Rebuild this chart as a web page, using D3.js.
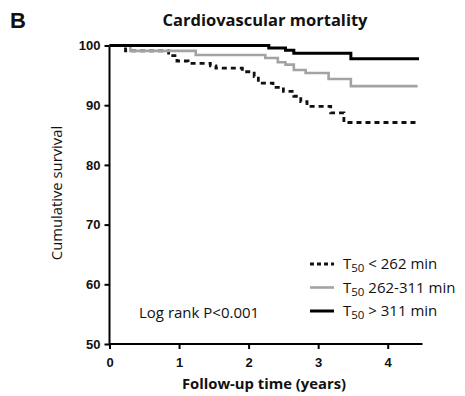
<!DOCTYPE html>
<html>
<head>
<meta charset="utf-8">
<script src="https://cdn.jsdelivr.net/npm/d3@7"></script>
<style>
  body { margin: 0; background: #fff; }
  text { fill: #111; }
</style>
</head>
<body>
<svg id="chart" width="465" height="396"></svg>
<script>
// --- data: [time (years), cumulative survival %] ---
const lowT50 = [[0, 100], [0.23, 99.1], [0.85, 98.3], [0.97, 97.4], [1.13, 97.0], [1.45, 96.6],
  [1.53, 96.2], [1.91, 95.6], [2.08, 94.8], [2.14, 93.7], [2.35, 93.0], [2.5, 92.3],
  [2.65, 91.5], [2.75, 90.6], [2.84, 89.8], [3.18, 88.7], [3.37, 87.1], [4.4, 87.1]];
const midT50 = [[0, 100], [0.3, 99.1], [1.24, 98.4], [2.24, 97.9], [2.42, 97.2], [2.53, 96.8],
  [2.65, 95.9], [2.82, 95.4], [3.15, 94.4], [3.47, 93.2], [4.43, 93.2]];
const highT50 = [[0, 100], [2.29, 99.6], [2.53, 99.2], [2.65, 98.7], [3.47, 97.8], [4.45, 97.8]];

const xTicks = [0, 1, 2, 3, 4];
const yTicks = [50, 60, 70, 80, 90, 100];
const legendLabels = ["< 262 min", "262-311 min", "> 311 min"];

const series = [
  { data: lowT50, color: "#111", width: 2.8, dash: "5,4", label: legendLabels[0] },
  { data: midT50, color: "#a3a3a3", width: 2.6, dash: null, label: legendLabels[1] },
  { data: highT50, color: "#000", width: 3, dash: null, label: legendLabels[2] }
];

const svg = d3.select("#chart");
const x = d3.scaleLinear().domain([0, 4.5]).range([109.5, 422.5]);
const y = d3.scaleLinear().domain([50, 100]).range([344, 45.5]);

// axes
const xAxis = svg.append("g")
  .attr("transform", `translate(0,${y(50)})`)
  .call(d3.axisBottom(x).tickValues(xTicks).tickSize(5).tickPadding(9).tickFormat(d3.format("d")));
const yAxis = svg.append("g")
  .attr("transform", `translate(${x(0)},0)`)
  .call(d3.axisLeft(y).tickValues(yTicks).tickSize(5).tickPadding(4).tickFormat(d3.format("d")));

[xAxis, yAxis].forEach(a => {
  a.select(".domain").attr("stroke", "#000").attr("stroke-width", 2);
  a.selectAll(".tick line").attr("stroke", "#000").attr("stroke-width", 2);
  a.selectAll(".tick text")
    .attr("font-family", "Liberation Sans, Arial, sans-serif")
    .attr("font-weight", "bold")
    .attr("font-size", 13)
    .attr("fill", "#111");
});
// x tick labels sit over the tick; x "0" centred under the corner
xAxis.select(".domain").attr("d", `M${x(0)},0H${x(4.5)}`);
yAxis.select(".domain").attr("d", `M0,${y(50)}V${y(100)}`);

// curves
const line = d3.line().x(d => x(d[0])).y(d => y(d[1])).curve(d3.curveStepAfter);
series.forEach(s => {
  svg.append("path")
    .datum(s.data)
    .attr("fill", "none")
    .attr("stroke", s.color)
    .attr("stroke-width", s.width)
    .attr("stroke-dasharray", s.dash)
    .attr("d", line);
});

// titles
const font = "Open Sans, Noto Sans, sans-serif";
svg.append("text").attr("x", 10).attr("y", 28)
  .attr("font-family", "Liberation Sans, Arial, sans-serif").attr("font-weight", "bold")
  .attr("font-size", 22).text("B");
svg.append("text").attr("x", 265).attr("y", 26).attr("text-anchor", "middle")
  .attr("font-family", font).attr("font-weight", "bold").attr("font-size", 16.5)
  .text("Cardiovascular mortality");
svg.append("text").attr("x", 264).attr("y", 389).attr("text-anchor", "middle")
  .attr("font-family", font).attr("font-weight", "bold").attr("font-size", 14.8)
  .text("Follow-up time (years)");
svg.append("text").attr("transform", "translate(62,193) rotate(-90)").attr("text-anchor", "middle")
  .attr("font-family", font).attr("font-size", 14.8)
  .text("Cumulative survival");
svg.append("text").attr("x", 139).attr("y", 318)
  .attr("font-family", font).attr("font-size", 15)
  .text("Log rank P<0.001");

// legend
const legend = svg.append("g").attr("transform", "translate(310,264)");
series.forEach((s, i) => {
  const g = legend.append("g").attr("transform", `translate(0,${i * 23.5})`);
  g.append("line").attr("x1", 0).attr("x2", 24).attr("y1", 0).attr("y2", 0)
    .attr("stroke", s.color).attr("stroke-width", s.width)
    .attr("stroke-dasharray", s.dash ? "4,3" : null);
  const t = g.append("text").attr("x", 33).attr("y", 5)
    .attr("font-family", font).attr("font-size", 15);
  t.append("tspan").text("T");
  t.append("tspan").attr("font-size", 11.5).attr("dy", 3).text("50");
  t.append("tspan").attr("dy", -3).text(" " + s.label);
});
</script>
</body>
</html>
